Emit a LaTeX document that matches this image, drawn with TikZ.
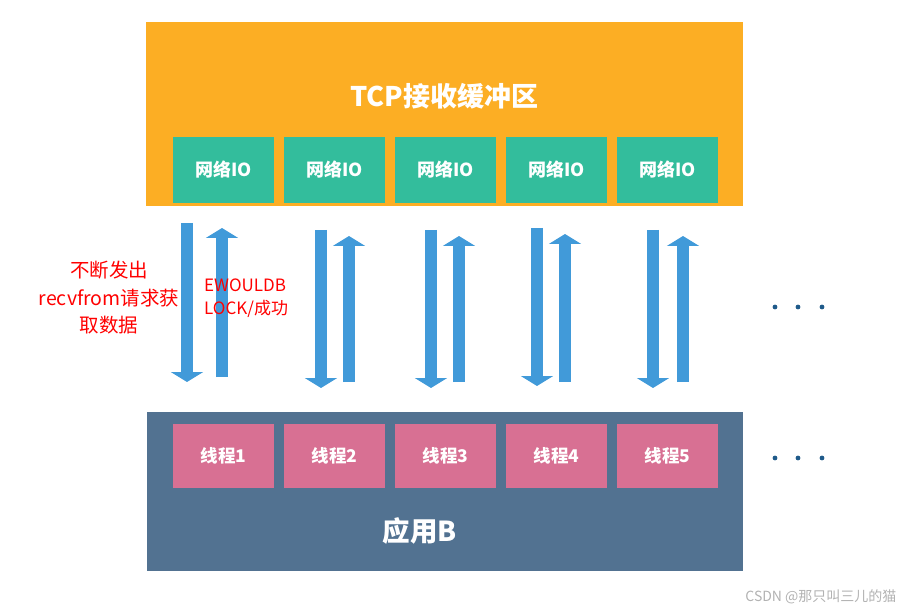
\documentclass[tikz,border=0pt]{standalone}
\usepackage{fontspec}
\setmainfont{Noto Sans CJK SC}
\usetikzlibrary{arrows.meta}

\definecolor{bufferorange}{RGB}{252,174,36}
\definecolor{iogreen}{RGB}{51,189,156}
\definecolor{appblue}{RGB}{82,114,145}
\definecolor{threadpink}{RGB}{216,112,147}
\definecolor{arrowblue}{RGB}{65,154,217}
\definecolor{dotblue}{RGB}{31,90,138}

\tikzset{
  iobox/.style={fill=iogreen, text=white, font=\bfseries\fontsize{18}{20}\selectfont,
    minimum width=101pt, minimum height=66pt, inner sep=0pt},
  threadbox/.style={fill=threadpink, text=white, font=\bfseries\fontsize{17.5}{20}\selectfont,
    minimum width=101pt, minimum height=64pt, inner sep=0pt},
  flow/.style={arrowblue, line width=12pt, -{Triangle[width=32pt,length=10pt]}},
  note/.style={text=red, align=center, inner sep=0pt}
}

\begin{document}
\begin{tikzpicture}[x=1pt,y=-1pt]

        \useasboundingbox (0,0) rectangle (904,612);

        % Buffer
        \node[fill=bufferorange, minimum width=597pt, minimum height=184pt, inner sep=0pt]
          (buffer) at (444.5,114) {};
        \node[text=white, font=\bfseries\fontsize{27}{30}\selectfont] (buftitle) at (444,96) {TCP接收缓冲区};
        \foreach \i in {1,...,5}
        \node[iobox] (io\i) at (223.5+111*\i-111,170) {网络IO};

        % Application
        \node[fill=appblue, minimum width=596pt, minimum height=159pt, inner sep=0pt]
          (app) at (445,491.5) {};
        \node[text=white, font=\bfseries\fontsize{27.5}{30}\selectfont] (apptitle) at (420,531) {应用B};
        \foreach \i in {1,...,5}
        \node[threadbox] (th\i) at (223.5+111*\i-111,456) {线程\i};

        % Arrows
        \foreach \n/\dx/\dt/\db/\ux/\ut/\ub in {1/187/223/382/222/228/377, 2/321/230/388/349/236/382,
            3/431/230/388/459/236/382, 4/537/228/386/565/234/382, 5/653/230/388/683/236/382} {
          \coordinate (req\n) at (\dx,\dt);
          \coordinate (thr\n) at (\dx,\db);
          \coordinate (ret\n) at (\ux,\ub);
          \coordinate (buf\n) at (\ux,\ut);
          \draw[flow] (req\n) -- (thr\n);
          \draw[flow] (ret\n) -- (buf\n);
        }

        % Labels
        \node[note, font=\fontsize{19.5}{27.5}\selectfont] (reqnote) at (109,298)
          {不断发出\\recvfrom请求获\\取数据};
        \node[note, font=\fontsize{17}{23}\selectfont, align=left, anchor=west] (retnote) at (204,298)
          {EWOULDB\\LOCK/成功};

        % Dots
        \foreach \y in {307,458}
        \foreach \x in {775,798,822}
        \fill[dotblue] (\x,\y) circle (2.4);

        % Mark
        \node[text=black!30, font=\fontsize{14}{16}\selectfont, anchor=east] (mark) at (900,597)
          {CSDN @那只叫三儿的猫};

\end{tikzpicture}
\end{document}
